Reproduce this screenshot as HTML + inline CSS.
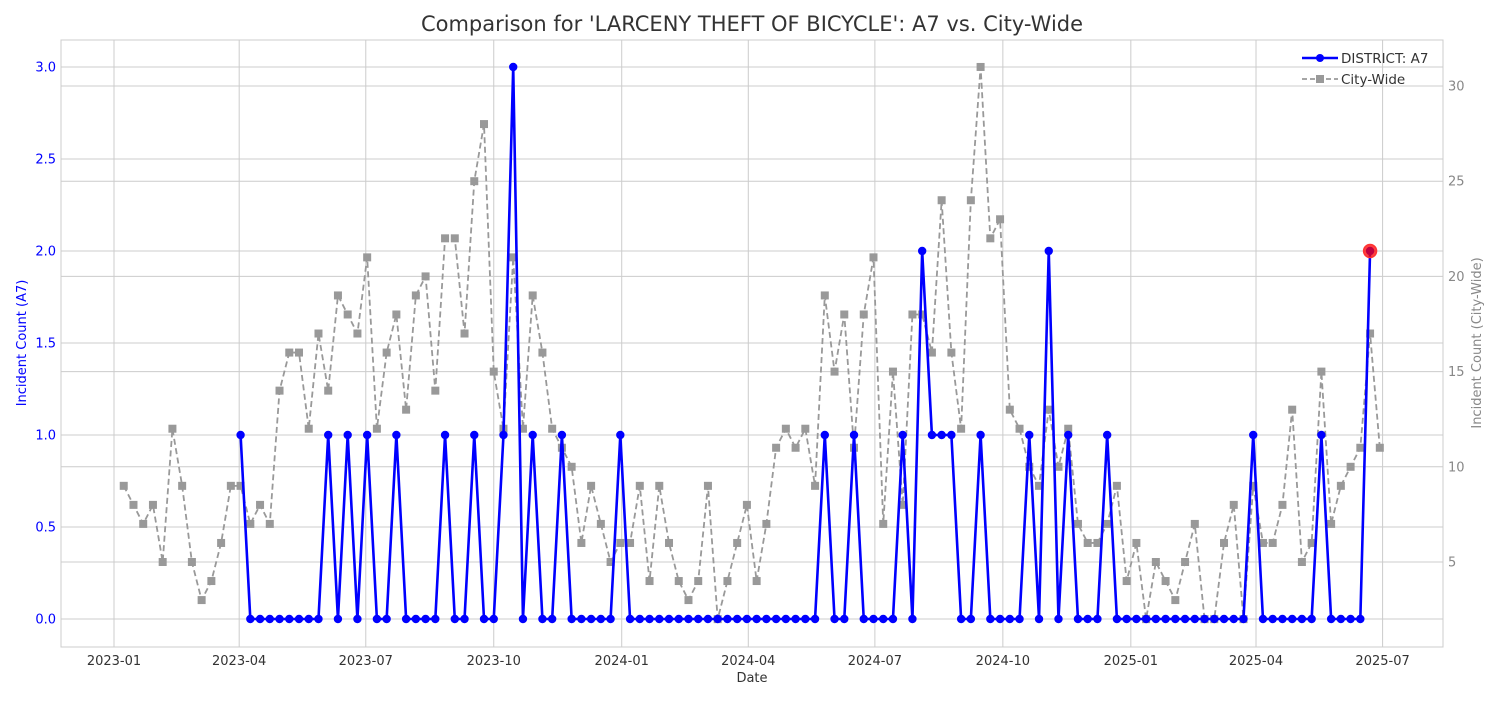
<!DOCTYPE html>
<html><head><meta charset="utf-8"><style>
body{margin:0;background:#fff;font-family:"Liberation Sans","DejaVu Sans",sans-serif}
svg text{font-family:"DejaVu Sans","Liberation Sans",sans-serif}
</style></head><body>
<svg id="chart" width="1500" height="700" xmlns="http://www.w3.org/2000/svg">
<rect width="1500" height="700" fill="#fff"/>
<text x="752" y="31" font-size="21" text-anchor="middle" fill="#333">Comparison for 'LARCENY THEFT OF BICYCLE': A7 vs. City-Wide</text>
<g id="grid"></g><g id="axes"></g><g id="series"></g>
<text x="752" y="682" font-size="13" text-anchor="middle" fill="#333">Date</text>
<text transform="translate(26,343) rotate(-90)" font-size="13" text-anchor="middle" fill="#0000ff">Incident Count (A7)</text>
<text transform="translate(1481,343) rotate(-90)" font-size="13" text-anchor="middle" fill="#888">Incident Count (City-Wide)</text>
<g>
<line x1="1302" y1="58" x2="1338" y2="58" stroke="#0000ff" stroke-width="2.5"/><circle cx="1320" cy="58" r="4" fill="#0000ff"/>
<text x="1341" y="63" font-size="13.5" fill="#333">DISTRICT: A7</text>
<line x1="1302" y1="79" x2="1338" y2="79" stroke="#999" stroke-width="1.8" stroke-dasharray="5,3"/><rect x="1316" y="75" width="8" height="8" fill="#999"/>
<text x="1341" y="84" font-size="13.5" fill="#333">City-Wide</text>
</g>
</svg>
<script>
const startDate = "2023-01-08";
const cityValues = [9,8,7,8,5,12,9,5,3,4, 6,9,9,7,8,7,14,16,16,12, 17,14,19,18,17,21,12,16,18,13, 19,20,14,22,22,17,25,28,15,12, 21,12,19,16,12,11,10,6,9,7, 5,6,6,9,4,9,6,4,3,4, 9,2,4,6,8,4,7,11,12,11, 12,9,19,15,18,11,18,21,7,15, 8,18,18,16,24,16,12,24,31,22, 23,13,12,10,9,13,10,12,7,6, 6,7,9,4,6,2,5,4,3,5, 7,2,2,6,8,2,9,6,6,8, 13,5,6,15,7,9,10,11,17,11];
const districtOnes = [12,21,23,25,28,33,36,39,42,45,51,72,75,80,83,84,85,88,93,97,101,116,123];
const districtTwos = [82,95,128];
const districtThrees = [40];
const districtStart = 12, districtEnd = 128;
const leftTicks = [0,0.5,1.0,1.5,2.0,2.5,3.0];
const rightTicks = [5,10,15,20,25,30];
const xTickLabels = ["2023-01","2023-04","2023-07","2023-10","2024-01","2024-04","2024-07","2024-10","2025-01","2025-04","2025-07"];

const L=61,R=1443,T=40,B=647;
const t0=Date.UTC(2023,0,1);
const xS=d=>114+(d-t0)/86400000*1.391;
const yL=v=>619-v*184;
const yR=v=>657.2-v*19.04;
const NS="http://www.w3.org/2000/svg";
function mk(tag,attrs,parent,txt){const e=document.createElementNS(NS,tag);for(const k in attrs)e.setAttribute(k,attrs[k]);if(txt!==undefined)e.textContent=txt;parent.appendChild(e);return e;}
const grid=document.getElementById('grid'),axes=document.getElementById('axes'),ser=document.getElementById('series');
mk('rect',{x:L,y:T,width:R-L,height:B-T,fill:'none',stroke:'#ccc','stroke-width':1},axes);
xTickLabels.forEach(s=>{const [y,m]=s.split('-').map(Number);const x=xS(Date.UTC(y,m-1,1));
 mk('line',{x1:x,x2:x,y1:T,y2:B,stroke:'#ccc','stroke-width':1},grid);
 const t=mk('text',{x:x,y:665,'font-size':13,'text-anchor':'middle',fill:'#333'},axes,s);
 
 });
leftTicks.forEach(v=>{const y=yL(v);
 mk('line',{x1:L,x2:R,y1:y,y2:y,stroke:'#ccc','stroke-width':1},grid);
 const t=mk('text',{x:56,y:y+4.5,'font-size':13,'text-anchor':'end',fill:'#0000ff'},axes,v.toFixed(1));
 
 });
rightTicks.forEach(v=>{const y=yR(v);
 mk('line',{x1:L,x2:R,y1:y,y2:y,stroke:'#ccc','stroke-width':1},grid);
 const t=mk('text',{x:1448,y:y+4.5,'font-size':13,fill:'#888'},axes,String(v));
 
 });
const dateAt=i=>Date.UTC(2023,0,8)+i*7*86400000;
let cp=cityValues.map((v,i)=>xS(dateAt(i))+','+yR(v)).join(' ');
const cl=mk('polyline',{points:cp,fill:'none',stroke:'#999','stroke-width':1.8,'stroke-dasharray':'6,3.5'},ser);


cityValues.forEach((v,i)=>{const r=mk('rect',{x:xS(dateAt(i))-4,y:yR(v)-4,width:8,height:8,fill:'#999'},ser);
 
 });
const dv=[];for(let i=districtStart;i<=districtEnd;i++){let v=0;if(districtOnes.includes(i))v=1;if(districtTwos.includes(i))v=2;if(districtThrees.includes(i))v=3;dv.push([i,v]);}
const dl=mk('polyline',{points:dv.map(([i,v])=>xS(dateAt(i))+','+yL(v)).join(' '),fill:'none',stroke:'#0000ff','stroke-width':2.6},ser);


dv.forEach(([i,v])=>{const c=mk('circle',{cx:xS(dateAt(i)),cy:yL(v),r:4.2,fill:'#0000ff'},ser);
 
 });
const last=dv[dv.length-1];
const hl=mk('circle',{cx:xS(dateAt(last[0])),cy:yL(last[1]),r:6.5,fill:'#ff0000','fill-opacity':0.75,stroke:'#ff3333','stroke-width':1.5},ser);


</script>
</body></html>
